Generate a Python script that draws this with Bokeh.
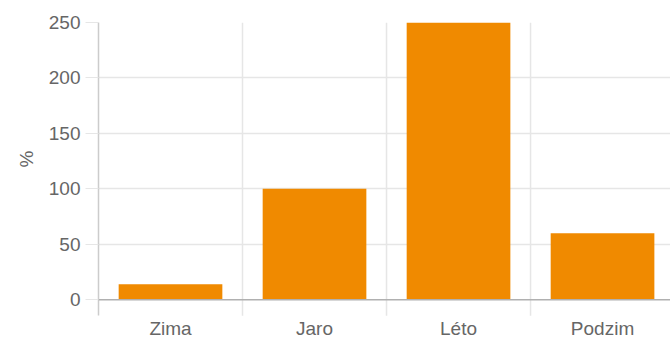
from bokeh.plotting import figure
from bokeh.models import Range1d, FixedTicker, Span, ColumnDataSource, Title
from bokeh.core.properties import value
from bokeh.embed import file_html
from bokeh.resources import INLINE

categories = ["Zima", "Jaro", "Léto", "Podzim"]
values = [14, 100, 250, 60]
y_ticks = [0, 50, 100, 150, 200, 250]
y_title = "%"

FONT = "Liberation Sans"
TEXT = "#666666"
FS = "19px"

Y_MIN, Y_MAX = -34.9, 250      # visible range (frame reaches page bottom)
GRID_BOTTOM = -14.4            # where the axis line / category dividers stop
LABEL_Y = -26                  # category labels row

xs = [i + 0.5 for i in range(len(categories))]
dividers = list(range(1, len(categories)))
src = ColumnDataSource(dict(x=xs, top=values, cat=categories))

p = figure(width=670, height=338, output_backend="svg", toolbar_location=None,
           x_range=Range1d(0, 3.972), y_range=Range1d(Y_MIN, Y_MAX),
           min_border_left=98, min_border_right=0, min_border_top=22, min_border_bottom=0)
p.outline_line_color = None
p.xaxis.visible = False
p.xgrid.visible = False

# category dividers
p.segment(x0=dividers, x1=dividers, y0=GRID_BOTTOM, y1=Y_MAX,
          line_color="#e6e6e6", line_width=1.5)

p.vbar(x="x", top="top", width=0.72, bottom=0, source=src, color="#F08A00", line_color=None)

# zero baseline
p.add_layout(Span(location=0, dimension="width", line_color="#b0b0b0", line_width=1.5))

# category labels
p.text(x="x", y=LABEL_Y, text="cat", source=src, text_align="center", text_baseline="middle",
       text_font=value(FONT), text_font_size=FS, text_color=TEXT)

# y axis
ya = p.yaxis[0]
ya.ticker = FixedTicker(ticks=y_ticks)
ya.bounds = (GRID_BOTTOM, Y_MAX)
ya.axis_line_color = "#cccccc"
ya.axis_line_width = 1.5
ya.major_tick_out = 13
ya.major_tick_in = 0
ya.major_tick_line_color = "#e6e6e6"
ya.minor_tick_line_color = None
ya.major_label_standoff = 5
ya.major_label_text_font = FONT
ya.major_label_text_font_size = FS
ya.major_label_text_color = TEXT

p.ygrid[0].ticker = FixedTicker(ticks=[50, 100, 150, 200, 250])
p.ygrid[0].grid_line_color = "#e6e6e6"
p.ygrid[0].grid_line_width = 1.5

p.add_layout(Title(text=y_title, align="right", offset=128, standoff=18,
                   text_font=FONT, text_font_size=FS, text_font_style="normal",
                   text_color=TEXT), "left")

open("out.html", "w").write(file_html(p, INLINE))
